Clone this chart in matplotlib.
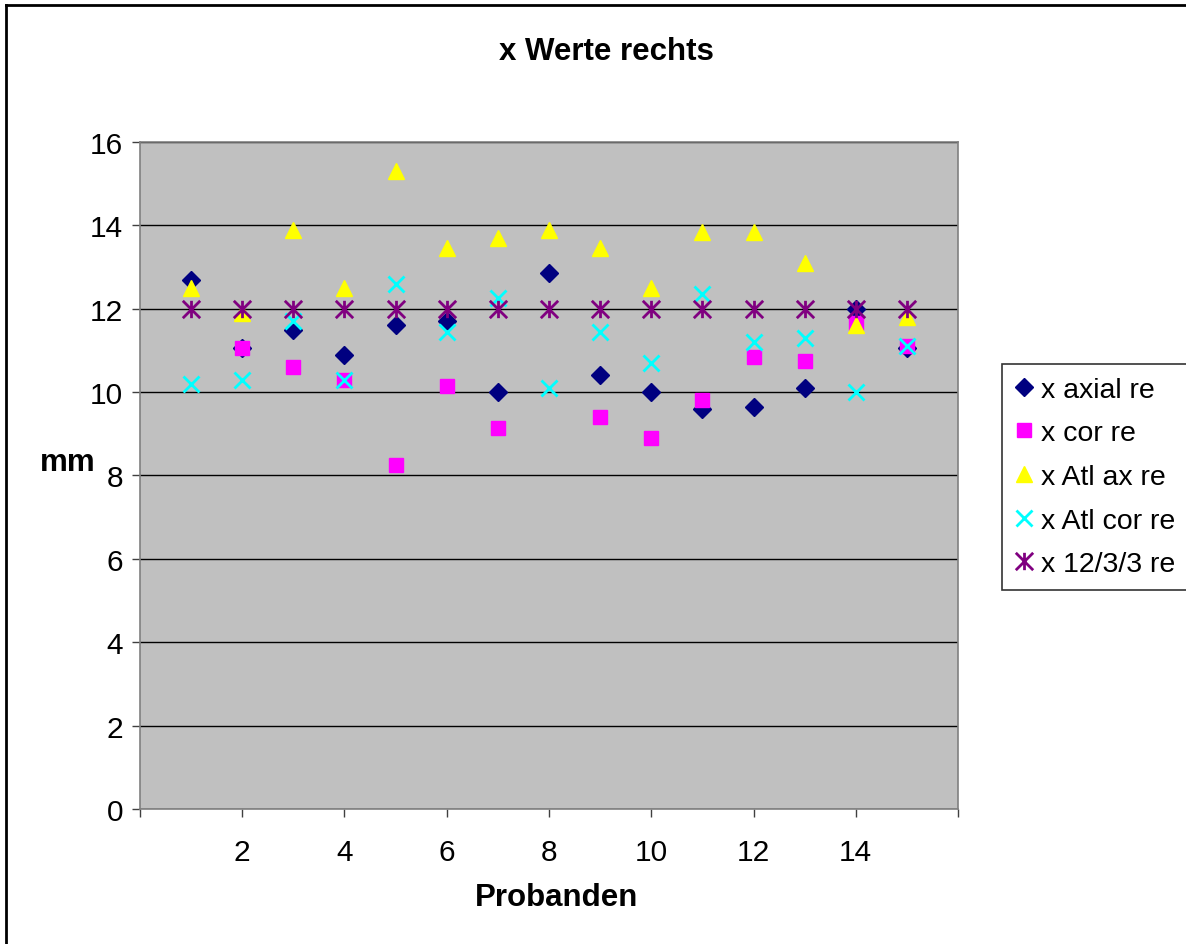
import numpy as np
import matplotlib.pyplot as plt
from matplotlib.path import Path
from matplotlib.lines import Line2D
from matplotlib.ticker import FixedLocator, FixedFormatter

plt.rcParams['font.family'] = ['Liberation Sans', 'DejaVu Sans']

# x-Werte rechts je Proband (mm); nan = kein Wert
probanden = np.arange(1, 16)
x_axial_re = [12.7, 11.05, 11.5, 10.9, 11.6, 11.7, 10.0, 12.85, 10.4, 10.0, 9.6, 9.65, 10.1, 12.0, 11.05]
x_cor_re = [np.nan, 11.05, 10.6, 10.3, 8.25, 10.15, 9.15, np.nan, 9.4, 8.9, 9.8, 10.85, 10.75, 11.65, 11.1]
x_atl_ax_re = [12.5, 11.9, 13.9, 12.5, 15.3, 13.45, 13.7, 13.9, 13.45, 12.5, 13.85, 13.85, 13.1, 11.6, 11.8]
x_atl_cor_re = [10.2, 10.3, 11.7, 10.3, 12.6, 11.45, 12.25, 10.1, 11.45, 10.7, 12.35, 11.2, 11.3, 10.0, 11.1]
x_12_3_3_re = [12] * 15

labels = ['x axial re', 'x cor re', 'x Atl ax re', 'x Atl cor re', 'x 12/3/3 re']
x_ticks = [0, 2, 4, 6, 8, 10, 12, 14, 16]
x_ticklabels = ['', '2', '4', '6', '8', '10', '12', '14', '']
y_ticks = [0, 2, 4, 6, 8, 10, 12, 14, 16]

# Sternsymbol: Kreuz plus senkrechter Strich
star = Path([(-1, -1), (1, 1), (-1, 1), (1, -1), (0, -1), (0, 1)],
            [Path.MOVETO, Path.LINETO, Path.MOVETO, Path.LINETO, Path.MOVETO, Path.LINETO])

fig = plt.figure(figsize=(11.86, 9.45), dpi=100)
ax = fig.add_axes([0.118, 0.1429, 0.6898, 0.7058])
ax.set_facecolor('#C0C0C0')

ax.plot(probanden, x_axial_re, ls='none', marker='D', ms=8.8, color='#000080', label=labels[0])
ax.plot(probanden, x_cor_re, ls='none', marker='s', ms=10.3, color='#FF00FF', label=labels[1])
ax.plot(probanden, x_atl_ax_re, ls='none', marker='^', ms=12, color='#FFFF00', label=labels[2])
ax.plot(probanden, x_atl_cor_re, ls='none', marker='x', ms=11.5, mew=2, color='#00FFFF', label=labels[3])
ax.plot(probanden, x_12_3_3_re, ls='none', marker=star, ms=12.5, mew=2, color='#800080', label=labels[4])

ax.set_xlim(0, 16)
ax.set_ylim(0, 16)
ax.xaxis.set_major_locator(FixedLocator(x_ticks))
ax.xaxis.set_major_formatter(FixedFormatter(x_ticklabels))
ax.set_yticks(y_ticks)
ax.yaxis.grid(True, color='black', lw=1)
ax.set_axisbelow(True)
for side in ['top', 'right', 'left', 'bottom']:
    ax.spines[side].set_color('#808080')
    ax.spines[side].set_linewidth(1.2)
ax.tick_params(axis='both', labelsize=21.5, length=6, color='#404040', width=1)
ax.tick_params(axis='x', pad=15)
ax.tick_params(axis='y', pad=6)

ax.set_xlabel('Probanden', fontsize=22.5, fontweight='bold', va='center')
ax.xaxis.set_label_coords(0.509, -0.132)
ax.set_ylabel('mm', fontsize=22.5, fontweight='bold', rotation=0, va='center', ha='center')
ax.yaxis.set_label_coords(-0.088, 0.52)
fig.text(0.511, 0.945, 'x Werte rechts', fontsize=22.5, fontweight='bold', ha='center', va='center')

leg = ax.legend(loc='upper left', bbox_to_anchor=(0.845, 0.614), bbox_transform=fig.transFigure,
                fontsize=20.5, frameon=True, fancybox=False, edgecolor='black',
                handlelength=0.6, handletextpad=0.3, borderpad=0.45, labelspacing=0.62,
                borderaxespad=0)
leg.get_frame().set_linewidth(1.2)

# Rahmen oben und links
fig.add_artist(Line2D([0.005, 0.005], [0, 0.994], transform=fig.transFigure, color='black', lw=2))
fig.add_artist(Line2D([0.005, 1], [0.994, 0.994], transform=fig.transFigure, color='black', lw=2))

fig.savefig('out.png', dpi=100)
